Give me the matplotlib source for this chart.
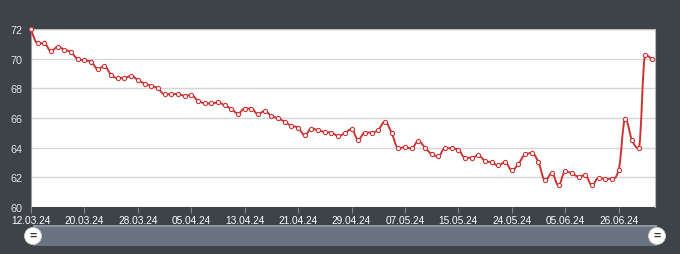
"""Price line with navigator strip, Highcharts-like look."""

import matplotlib

matplotlib.use("Agg")
import matplotlib.pyplot as plt
from matplotlib.patches import Circle, PathPatch, Rectangle
from matplotlib.path import Path
from matplotlib.transforms import IdentityTransform

plt.rcParams["font.family"] = ["Liberation Sans", "DejaVu Sans"]

# daily closes, one per trading day
values = [
    72.0, 71.03, 71.03, 70.5, 70.8, 70.6, 70.42, 69.97, 69.88, 69.8,
    69.3, 69.5, 68.9, 68.7, 68.7, 68.84, 68.56, 68.32, 68.17, 68.0,
    67.6, 67.6, 67.62, 67.5, 67.54, 67.17, 67.0, 66.98, 67.05, 66.85,
    66.62, 66.3, 66.64, 66.64, 66.25, 66.48, 66.14, 65.97, 65.75, 65.47,
    65.35, 64.84, 65.29, 65.17, 65.06, 65.02, 64.79, 64.98, 65.24, 64.54,
    65.02, 65.02, 65.2, 65.75, 65.0, 63.97, 64.02, 63.95, 64.45, 64.0,
    63.57, 63.43, 63.97, 63.95, 63.86, 63.32, 63.32, 63.48, 63.1, 63.01,
    62.8, 63.03, 62.48, 62.9, 63.55, 63.63, 63.01, 61.79, 62.27, 61.46,
    62.4, 62.27, 62.05, 62.14, 61.47, 61.97, 61.9, 61.9, 62.49, 65.93,
    64.52, 63.97, 70.24, 69.95,
]
tick_labels = [
    "12.03.24", "20.03.24", "28.03.24", "05.04.24", "13.04.24", "21.04.24",
    "29.04.24", "07.05.24", "15.05.24", "24.05.24", "05.06.24", "26.06.24",
]
y_ticks = [60, 62, 64, 66, 68, 70, 72]

BG = "#3e434a"
RED = "#cc3434"


def spline_path(xs, ys, smoothing=1.5):
    """Bezier path like a Highcharts spline series."""
    denom = smoothing + 1
    n = len(xs)
    left, right = [None] * n, [None] * n
    for i in range(1, n - 1):
        x, y = xs[i], ys[i]
        lx = (smoothing * x + xs[i - 1]) / denom
        ly = (smoothing * y + ys[i - 1]) / denom
        rx = (smoothing * x + xs[i + 1]) / denom
        ry = (smoothing * y + ys[i + 1]) / denom
        corr = (ry - ly) * (rx - x) / (rx - lx) + y - ry
        ly += corr
        ry += corr
        if ly > ys[i - 1] and ly > y:
            ly = max(ys[i - 1], y)
            ry = 2 * y - ly
        elif ly < ys[i - 1] and ly < y:
            ly = min(ys[i - 1], y)
            ry = 2 * y - ly
        if ry > ys[i + 1] and ry > y:
            ry = max(ys[i + 1], y)
            ly = 2 * y - ry
        elif ry < ys[i + 1] and ry < y:
            ry = min(ys[i + 1], y)
            ly = 2 * y - ry
        left[i], right[i] = (lx, ly), (rx, ry)
    verts = [(xs[0], ys[0])]
    codes = [Path.MOVETO]
    for i in range(1, n):
        c1 = right[i - 1] or (xs[i - 1], ys[i - 1])
        c2 = left[i] or (xs[i], ys[i])
        verts += [c1, c2, (xs[i], ys[i])]
        codes += [Path.CURVE4] * 3
    return Path(verts, codes)


W, H = 680, 255
fig = plt.figure(figsize=(W / 100, H / 100), dpi=100, facecolor=BG)
ax = fig.add_axes((31 / W, 1 - 208 / H, 624 / W, 178 / H))
ax.set_facecolor("white")

xs = list(range(len(values)))
ax.add_patch(PathPatch(spline_path(xs, values), facecolor="none",
                       edgecolor=RED, lw=1.4, clip_on=False, zorder=3))
ax.plot(xs, values, ls="none", marker="o", ms=3.0, mfc="white", mec=RED,
        mew=0.8, clip_on=False, zorder=4)

ax.set_xlim(0, len(values) - 1 + 0.45)
ax.set_ylim(60, 72)
ax.set_yticks(y_ticks)
ax.set_xticks(xs[::8][:len(tick_labels)])
ax.set_xticklabels(tick_labels)
ax.grid(True, axis="y", color="#d6d6d6", lw=1)
ax.set_axisbelow(True)

for side in ("top", "right"):
    ax.spines[side].set_color("#b8b8b8")
    ax.spines[side].set_linewidth(0.8)
ax.spines["left"].set_color("#9a9a9a")
ax.spines["bottom"].set_visible(False)
ax.tick_params(axis="y", length=0, pad=6, labelsize=7.8, labelcolor="#e4e4e4")
ax.tick_params(axis="x", length=4, width=0.8, color="#888888", pad=1.5,
               labelsize=7.3, labelcolor="white")

# navigator strip
nav_l, nav_r, nav_t, nav_b = 33, 657, 226, 247
fig.add_artist(Rectangle((nav_l, H - nav_b), nav_r - nav_l, nav_b - nav_t,
                         transform=IdentityTransform(), facecolor="#6a7380",
                         edgecolor="none"))
fig.add_artist(Rectangle((nav_l, H - nav_t - 2), nav_r - nav_l, 2,
                         transform=IdentityTransform(), facecolor="#8d96a1",
                         edgecolor="none"))
for hx in (nav_l, nav_r):
    fig.add_artist(Circle((hx, H - 237), 8.5, transform=IdentityTransform(),
                          facecolor="white", edgecolor="#cfcfcf", lw=0.6))
    fig.text(hx / W, 1 - 237 / H, "=", ha="center", va="center",
             fontsize=9, fontweight="bold", color="#333333")

fig.savefig("out.png", dpi=100, facecolor=BG)
